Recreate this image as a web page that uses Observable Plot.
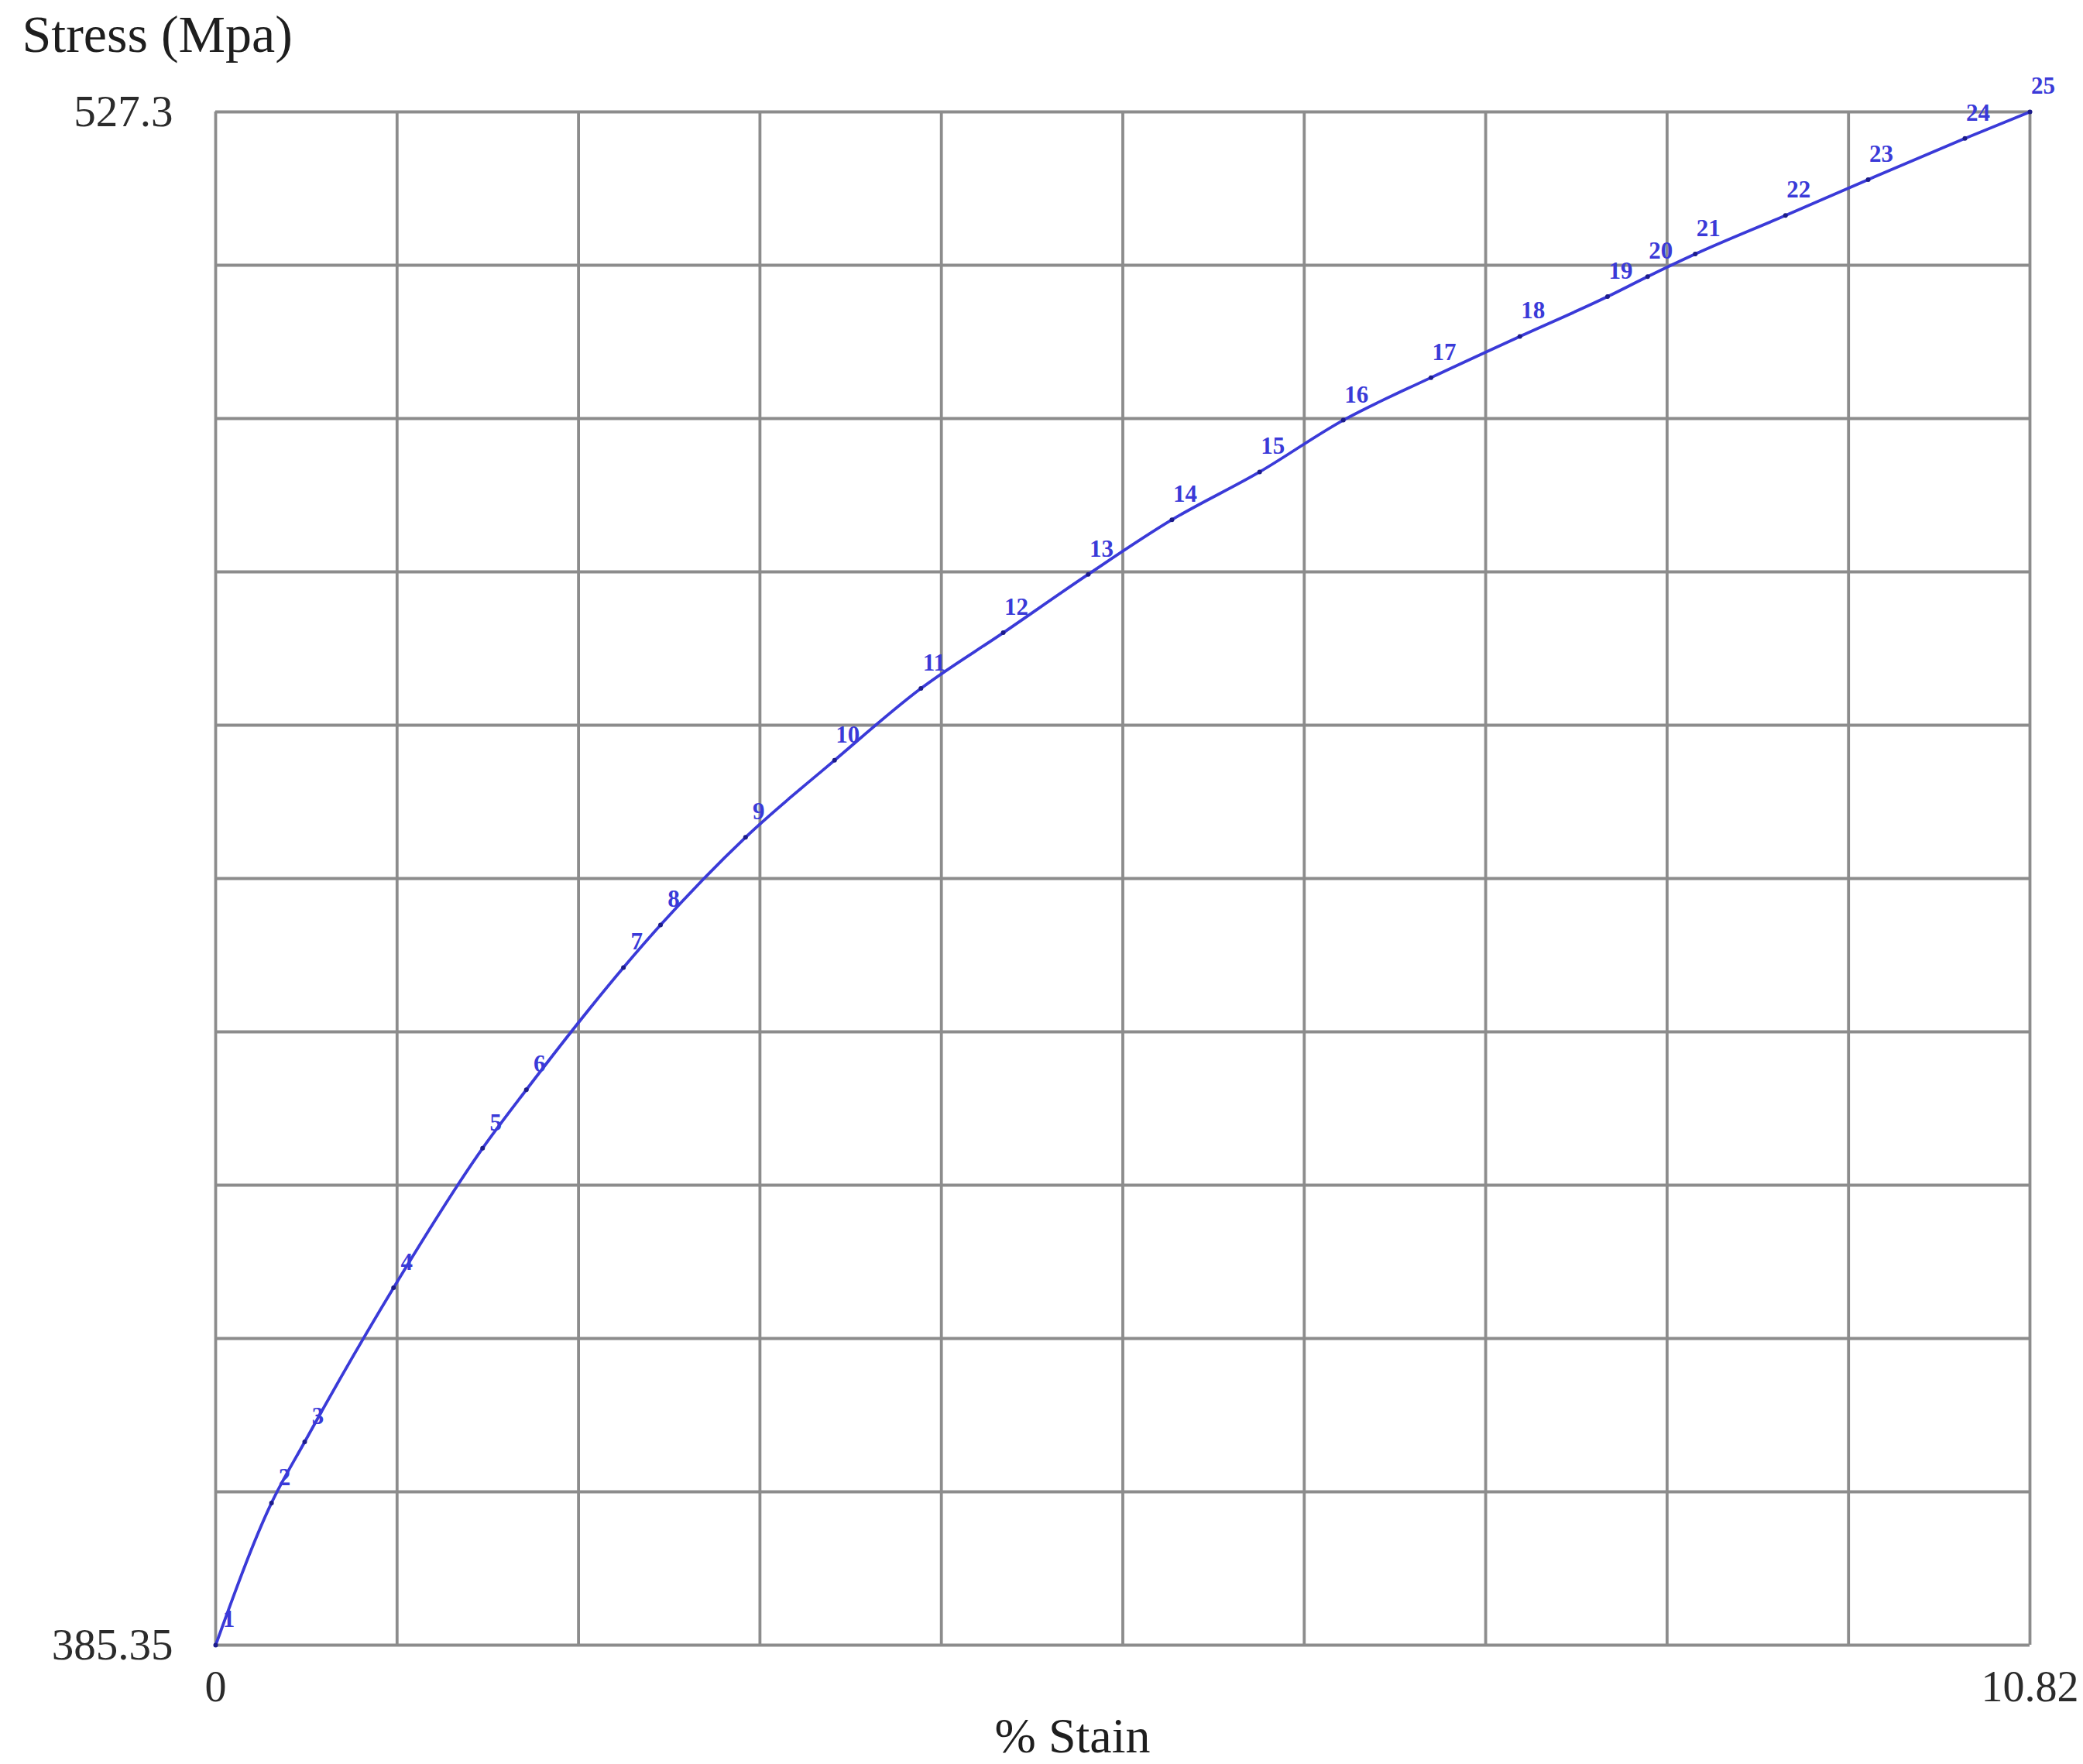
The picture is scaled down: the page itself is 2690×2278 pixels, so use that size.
<!DOCTYPE html>
<html>
<head>
<meta charset="utf-8">
<script src="https://cdn.jsdelivr.net/npm/d3@7"></script>
<script src="https://cdn.jsdelivr.net/npm/@observablehq/plot@0.6"></script>
<style>
  html, body { margin: 0; padding: 0; background: #ffffff; }
  #chart svg { display: block; }
</style>
</head>
<body>
<div id="chart"></div>
<script>
// ---- Data ----
const pointIds = [1, 2, 3, 4, 5, 6, 7, 8, 9, 10, 11, 12, 13, 14, 15, 16, 17, 18, 19, 20, 21, 22, 23, 24, 25];
const strain = [0, 0.333, 0.531, 1.061, 1.592, 1.853, 2.432, 2.653, 3.160, 3.691, 4.206, 4.697, 5.204,
                5.703, 6.226, 6.725, 7.248, 7.778, 8.301, 8.540, 8.824, 9.362, 9.855, 10.432, 10.82];
const stress = [385.35, 398.51, 404.17, 418.44, 431.35, 436.77, 448.08, 452.02, 460.14, 467.27, 473.92,
                479.08, 484.49, 489.54, 493.97, 498.76, 502.70, 506.51, 510.20, 512.05, 514.14, 517.71,
                521.03, 524.84, 527.3];
const xTickValues = [0, 10.82];
const xTickLabels = ["0", "10.82"];
const yTickValues = [385.35, 527.3];
const yTickLabels = ["385.35", "527.3"];
const yTitle = "Stress (Mpa)";
const xTitle = "% Stain";
const gridDivisions = 10;

// ---- Build table ----
const data = pointIds.map((id, i) => ({id, strain: strain[i], stress: stress[i]}));
const xDomain = [xTickValues[0], xTickValues[1]];
const yDomain = [yTickValues[0], yTickValues[1]];
const xGrid = d3.range(gridDivisions + 1).map(i => xDomain[0] + (xDomain[1] - xDomain[0]) * i / gridDivisions);
const yGrid = d3.range(gridDivisions + 1).map(i => yDomain[0] + (yDomain[1] - yDomain[0]) * i / gridDivisions);

const gridStyle = {stroke: "#8c8c8c", strokeOpacity: 1, strokeWidth: 3.8};
const serif = "'Liberation Serif', 'DejaVu Serif', serif";

const chart = Plot.plot({
  width: 2690,
  height: 2278,
  marginLeft: 278,
  marginRight: 69,
  marginTop: 144,
  marginBottom: 154,
  style: {background: "#ffffff", fontFamily: serif},
  x: {domain: xDomain, label: null},
  y: {domain: yDomain, label: null},
  marks: [
    Plot.gridX(xGrid, gridStyle),
    Plot.gridY(yGrid, gridStyle),
    Plot.axisX(xTickValues, {
      label: null, tickSize: 0, tickPadding: 33, fontSize: 56, fill: "#2b2b2b",
      fontFamily: serif,
      tickFormat: d => xTickLabels[xTickValues.indexOf(d)]
    }),
    Plot.axisY(yTickValues, {
      label: null, tickSize: 0, tickPadding: 55, fontSize: 57, fill: "#2b2b2b",
      fontFamily: serif,
      tickFormat: d => yTickLabels[yTickValues.indexOf(d)]
    }),
    Plot.line(data, {x: "strain", y: "stress", stroke: "#3a3ad8", strokeWidth: 3.8, curve: "monotone-x"}),
    Plot.dot(data, {x: "strain", y: "stress", r: 3, fill: "#1c1c8a", stroke: "none"}),
    Plot.text(data, {
      x: "strain", y: "stress", text: d => String(d.id),
      dx: 17, dy: -33, fontSize: 31, fontWeight: "bold", fill: "#3a3ad8",
      fontFamily: serif
    }),
    Plot.text([yTitle], {
      text: d => d, frameAnchor: "top-left", dx: -250, dy: -99,
      textAnchor: "start", lineAnchor: "middle", fontSize: 68, fill: "#1e1e1e", fontFamily: serif
    }),
    Plot.text([xTitle], {
      text: d => d, frameAnchor: "bottom", dx: -65, dy: 118,
      textAnchor: "middle", lineAnchor: "middle", fontSize: 64, fill: "#1e1e1e", fontFamily: serif
    })
  ]
});

document.getElementById("chart").appendChild(chart);
</script>
</body>
</html>
